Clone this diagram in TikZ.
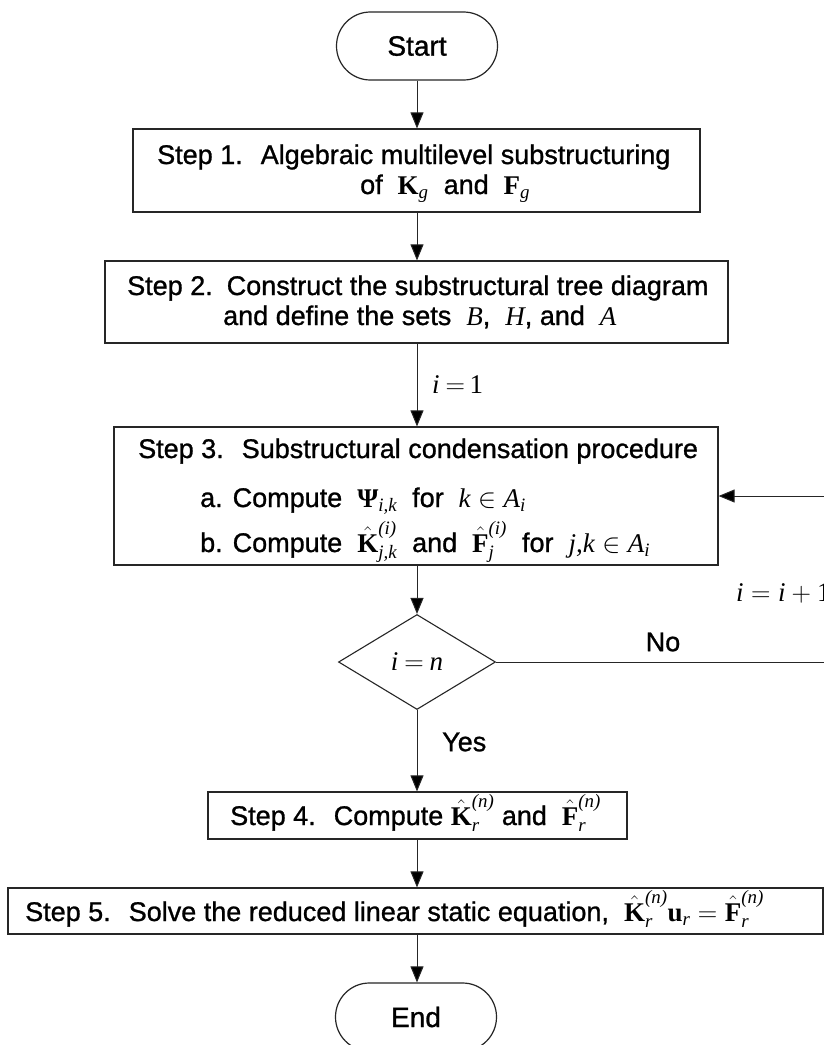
\RequirePackage{fix-cm}
\documentclass[tikz,border=0pt]{standalone}
\usepackage{amsmath}
\usepackage[no-math]{fontspec}
\setmainfont{Liberation Sans}[FakeBold=1.0]
\newfontfamily\tms{Liberation Serif}
\newcommand\tb[1]{\text{\tms\bfseries #1}}
\newcommand\ti[1]{\text{\tms\itshape #1}}
\newcommand\tr[1]{\text{\tms #1}}
\usetikzlibrary{arrows.meta,shapes.geometric}
\begin{document}
\begin{tikzpicture}[x=1pt,y=-1pt,
  box/.style={draw=black!85, line width=1.2pt, rectangle, inner sep=0pt},
  term/.style={draw=black!85, line width=1.2pt, rectangle, rounded corners=33.9pt, minimum width=161pt, minimum height=68pt, inner sep=0pt, font=\fontsize{28}{32}\selectfont},
  txt/.style={anchor=base west, inner sep=0pt, font=\fontsize{27}{32}\selectfont},
  lbl/.style={inner sep=0pt, font=\fontsize{27}{32}\selectfont},
  flow/.style={draw=black!85, line width=1pt, -{Triangle[length=16pt,width=13pt,fill=black]}},
]
\fill[white] (0,0) rectangle (824,1045);
\useasboundingbox (0,0) rectangle (824,1045);

% terminals
\node[term] (start) at (417,46) {Start};
\node[term] (end) at (416,1017) {End};

% boxes
\node[box, minimum width=567pt, minimum height=83pt] (s1) at (416.5,170.5) {};
\node[box, minimum width=623pt, minimum height=82pt] (s2) at (416.5,302) {};
\node[box, minimum width=604pt, minimum height=138pt] (s3) at (416,496) {};
\node[draw=black!85, diamond, aspect=1.65, minimum width=157pt, minimum height=95pt, inner sep=0pt, line width=1.1pt, font=\fontsize{27}{32}\selectfont] (dec) at (417,662) {$\ti{i}\mskip4mu{=}\mskip4mu\ti{n}$};
\node[box, minimum width=419pt, minimum height=47pt] (s4) at (417.5,815.5) {};
\node[box, minimum width=815pt, minimum height=46pt] (s5) at (415.5,911) {};

% texts
\node[txt] (s1a) at (157,164) {Step 1.\hspace{18pt}Algebraic multilevel substructuring};
\node[txt] (s1b) at (360,194) {of\ \ $\tb{K}_{\ti{g}}$\ \ and\ \ $\tb{F}_{\ti{g}}$};
\node[txt] (s2a) at (127,295) {Step 2.\hspace{14pt}Construct the substructural tree diagram};
\node[txt] (s2b) at (223,325) {and define the sets\ \ $\ti{B}$,\ \ $\ti{H}$, and\ \ $\ti{A}$};
\node[txt] (s3t) at (138,458) {Step 3.\hspace{18pt}Substructural condensation procedure};
\node[txt] (s3a) at (200,507) {a. Compute\ \ $\tb{Ψ}_{\ti{i,k}}$\ \ for\ \ $\ti{k}\in\ti{A}_{\ti{i}}$};
\node[txt] (s3b) at (200,552) {b. Compute\ \ $\hat{\tb{K}}^{\ti{(i)}}_{\ti{j,k}}$\ \ and\ \ $\hat{\tb{F}}^{\ti{(i)}}_{\ti{j}}$\ \ for\ \ $\ti{j,k}\in\ti{A}_{\ti{i}}$};
\node[txt] (s4t) at (230,825) {Step 4.\hspace{18pt}Compute\ $\hat{\tb{K}}^{\ti{(n)}}_{\ti{r}}$\ and\ \ $\hat{\tb{F}}^{\ti{(n)}}_{\ti{r}}$};
\node[txt] (s5t) at (25,921) {Step 5.\hspace{18pt}Solve the reduced linear static equation,\ \ $\hat{\tb{K}}^{\ti{(n)}}_{\ti{r}}\tb{u}_{\ti{r}}=\hat{\tb{F}}^{\ti{(n)}}_{\ti{r}}$};

% labels
\node[lbl, anchor=west] (li1) at (432,385) {$\ti{i}\mskip4mu{=}\mskip3mu\tr{1}$};
\node[lbl] (lno) at (663,642) {No};
\node[lbl, anchor=west] (lyes) at (442,742) {Yes};
\node[lbl, anchor=west] (linc) at (736,593) {$\ti{i}=\ti{i}+\tr{1}$};

% connectors
\draw[flow] (start.south) -- (start.south |- s1.north);
\draw[flow] (start.south |- s1.south) -- (start.south |- s2.north);
\draw[flow] (start.south |- s2.south) -- (start.south |- s3.north);
\draw[flow] (start.south |- s3.south) -- (dec.north);
\draw[flow] (dec.south) -- (dec.south |- s4.north);
\draw[flow] (dec.south |- s4.south) -- (dec.south |- s5.north);
\draw[flow] (dec.south |- s5.south) -- (end.north -| dec.south);
\coordinate (fb) at (826,662);
\draw[flow] (dec.east) -- (fb) |- (s3.east);
\end{tikzpicture}
\end{document}
